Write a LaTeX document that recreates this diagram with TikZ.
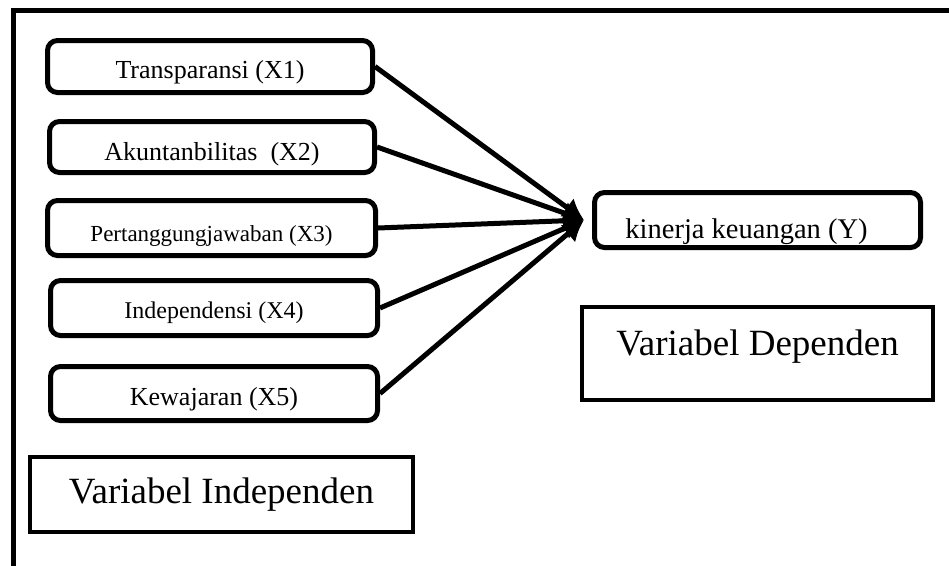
\documentclass[tikz,border=0pt]{standalone}
\usepackage{fontspec}
\setmainfont{Liberation Serif}
\usetikzlibrary{arrows.meta,shadows}

\begin{document}
\begin{tikzpicture}[x=1pt,y=-1pt,>=Latex,
    varbox/.style={draw,line width=5pt,rounded corners=10pt,fill=white,
      inner sep=0pt,text depth=0pt,font=\fontsize{26}{30}\selectfont,
      drop shadow={shadow xshift=2pt,shadow yshift=-2pt,opacity=.2}},
    groupbox/.style={draw,line width=4pt,fill=white,inner sep=0pt,
      font=\fontsize{37}{42}\selectfont,
      drop shadow={shadow xshift=2pt,shadow yshift=-2pt,opacity=.2}},
    arr/.style={line width=5pt,-{Latex[length=21pt,width=23pt]}}]
      \useasboundingbox (0,0) rectangle (949,565);
      \clip (0,0) rectangle (949,565);
      % outer frame, runs off the page on the right and bottom
      \draw[line width=5pt] (13,10.5) rectangle (975,590);
      % independent variables
      \node[varbox,minimum width=325pt,minimum height=52pt,text height=23pt] (x1) at (210,66.5) {Transparansi (X1)};
      \node[varbox,minimum width=325pt,minimum height=51pt,text height=26pt] (x2) at (212,147) {Akuntanbilitas~ (X2)};
      \node[varbox,minimum width=328pt,minimum height=55pt,text height=27pt,font=\fontsize{23}{27}\selectfont] (x3) at (211.5,228) {Pertanggungjawaban (X3)};
      \node[varbox,minimum width=327pt,minimum height=55pt,text height=20pt,font=\fontsize{24}{28}\selectfont] (x4) at (214,308) {Independensi (X4)};
      \node[varbox,minimum width=327pt,minimum height=54pt,text height=23pt] (x5) at (214,393.5) {Kewajaran (X5)};
      % dependent variable
      \node[varbox,minimum width=326pt,minimum height=55pt,text height=36pt,font=\fontsize{28.5}{32}\selectfont] (y) at (757.5,220) {kinerja keuangan (Y)\hspace*{22pt}};
      \coordinate (hub) at (584,220);
      \foreach \n in {x1,x2,x3,x4,x5}
        \draw[arr] (\n.east) -- (hub);
      % group labels
      \node[groupbox,minimum width=351pt,minimum height=93pt,text height=25pt,text depth=22pt] (dep) at (757.5,353.5) {Variabel Dependen};
      \node[groupbox,minimum width=383pt,minimum height=75pt,text height=25pt,text depth=8pt] (indep) at (221.5,494.5) {Variabel Independen};
    \end{tikzpicture}
\end{document}
